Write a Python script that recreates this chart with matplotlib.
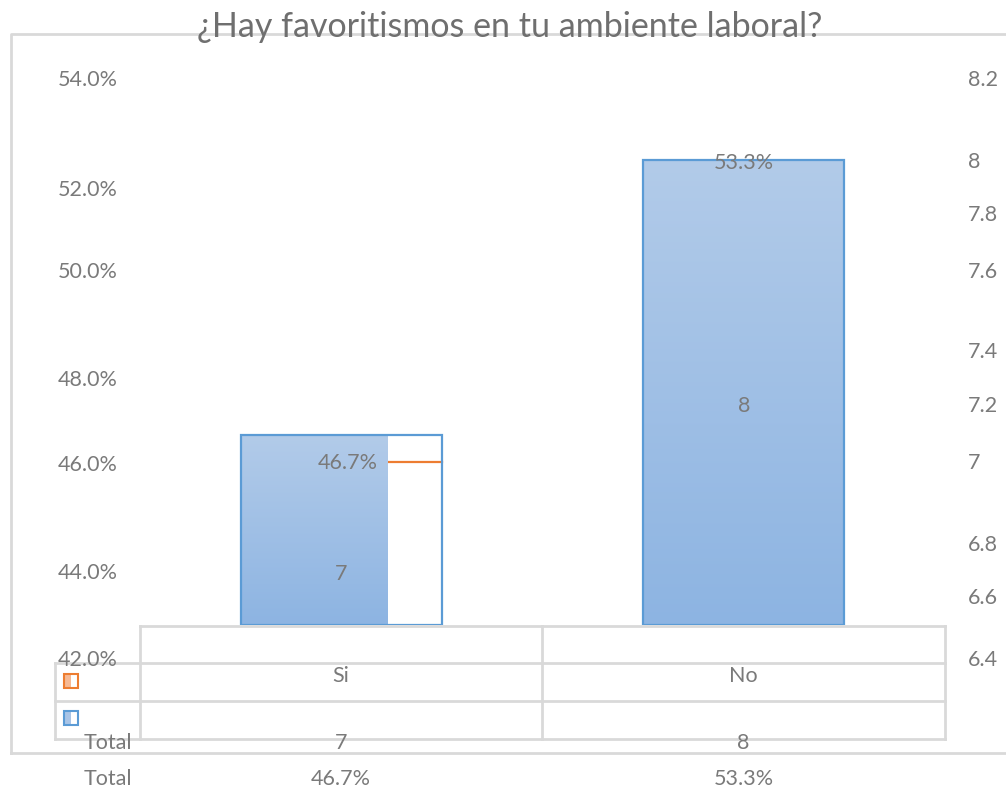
import numpy as np
import matplotlib.pyplot as plt
from matplotlib.colors import LinearSegmentedColormap

plt.rcParams['font.family'] = ['Lato', 'DejaVu Sans']

categories = ["Si", "No"]
counts = [7, 8]
percents = [46.7, 53.3]
left_ticks = ["54.0%", "52.0%", "50.0%", "48.0%", "46.0%", "44.0%", "42.0%"]
right_ticks = ["8.2", "8", "7.8", "7.6", "7.4", "7.2", "7", "6.8", "6.6", "6.4"]

W, H = 1006, 790
GRAY = "#7a7a7a"
GRID = "#d9d9d9"
BLUE = "#5b9bd5"
ORANGE = "#ed7d31"
FS = 15.5
blue_fill = LinearSegmentedColormap.from_list("bf", ["#8db4e2", "#b2cbe9"])

fig = plt.figure(figsize=(W / 100, H / 100), dpi=100)

# pixel overlay for frame, table and labels
ov = fig.add_axes([0, 0, 1, 1])
ov.set_xlim(0, W)
ov.set_ylim(H, 0)
ov.axis("off")

# chart frame
ov.plot([11, 11, W + 5], [753, 34, 34], color=GRID, lw=2)
ov.plot([11, W + 5], [753, 753], color=GRID, lw=2)

ov.text(510, 37, "¿Hay favoritismos en tu ambiente laboral?", ha="center",
        va="baseline", fontsize=24.5, color="#6f6f6f", zorder=5)

# axis labels, as laid out
for lab, y in zip(left_ticks, [80, 190, 272, 380, 465, 573, 660]):
    ov.text(118, y, lab, ha="right", va="center", fontsize=FS, color=GRAY)
for lab, y in zip(right_ticks, [80, 162, 215, 272, 352, 406, 463, 545, 598, 660]):
    ov.text(968, y, lab, ha="left", va="center", fontsize=FS, color=GRAY)

# bar area
ax_l, ax_r, ax_t, ax_b = 140, 945, 34, 625
ax = fig.add_axes([ax_l / W, (H - ax_b) / H, (ax_r - ax_l) / W, (ax_b - ax_t) / H])
ax.axis("off")
px_per = (435 - 160) / (percents[1] - percents[0])
y0 = percents[0] - (ax_b - 435) / px_per
y1 = y0 + (ax_b - ax_t) / px_per

x = np.arange(len(categories))
width = 0.5
fill_frac = [0.73, 1.0]
grad = np.linspace(0, 1, 256).reshape(-1, 1)
for xi, p, fr in zip(x, percents, fill_frac):
    ax.imshow(grad, cmap=blue_fill, origin="lower", aspect="auto",
              extent=[xi - width / 2, xi - width / 2 + width * fr, y0, p], zorder=1)
ax.bar(x, np.array(percents) - y0, width, bottom=y0, facecolor="none",
       edgecolor=BLUE, lw=1.6, zorder=2)
ax.set_xlim(-0.5, 1.5)
ax.set_ylim(y0, y1)

# value labels inside the bars
ax.annotate(f"{percents[0]:.1f}%", (x[0], percents[0]), xytext=(5, -20),
            textcoords="offset points", ha="center", va="center", fontsize=FS, color=GRAY)
ax.annotate(f"{percents[1]:.1f}%", (x[1], percents[1]), xytext=(0, -2),
            textcoords="offset points", ha="center", va="center", fontsize=FS, color=GRAY)
ax.text(x[0], y0 + (percents[0] - y0) * 0.27, str(counts[0]), ha="center",
        va="center", fontsize=FS, color=GRAY)
ax.text(x[1], y0 + (percents[1] - y0) * 0.47, str(counts[1]), ha="center",
        va="center", fontsize=FS, color=GRAY)

# stray orange series strokes
ov.plot([388, 442], [462, 462], color=ORANGE, lw=1.6, zorder=3)
ov.plot([241, 372], [623, 623], color=ORANGE, lw=1.4, alpha=0.6, zorder=3)

# data table grid
ov.plot([140, 945], [626, 626], color=GRID, lw=2)
for y in [663, 701, 739]:
    ov.plot([55, 945], [y, y], color=GRID, lw=2)
ov.plot([55, 55], [663, 739], color=GRID, lw=2)
for xv in [140, 542, 945]:
    ov.plot([xv, xv], [626, 739], color=GRID, lw=2)

centers = [341, 743.5]
for c, cat, n, p in zip(centers, categories, counts, percents):
    ov.text(c, 676, cat, ha="center", va="center", fontsize=FS, color=GRAY)
    ov.text(c, 743, str(n), ha="center", va="center", fontsize=FS, color=GRAY)
    ov.text(c, 779, f"{p:.1f}%", ha="center", va="center", fontsize=FS, color=GRAY)
ov.text(108, 743, "Total", ha="center", va="center", fontsize=FS, color=GRAY)
ov.text(108, 779, "Total", ha="center", va="center", fontsize=FS, color=GRAY)

# legend keys
for yk, col, fill in [(681, ORANGE, "#f6b994"), (718, BLUE, "#a9c4e6")]:
    ov.add_patch(plt.Rectangle((65, yk - 6.5), 6, 13, facecolor=fill, edgecolor="none"))
    ov.add_patch(plt.Rectangle((64, yk - 7), 14, 14, facecolor="none", edgecolor=col, lw=1.5))

fig.savefig("out.png", dpi=100)
